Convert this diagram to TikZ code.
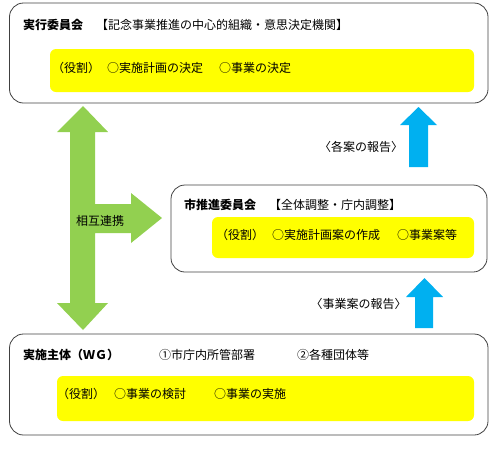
\documentclass[tikz,border=0pt]{standalone}
\usepackage{fontspec}
\setmainfont{Noto Sans CJK JP}
\usepackage{tikz}
\usetikzlibrary{positioning}
\definecolor{rolefill}{HTML}{FFFF00}
\definecolor{linkgreen}{HTML}{92D050}
\definecolor{reportblue}{HTML}{00B0F0}
\definecolor{framegray}{HTML}{404040}
\tikzset{%
	outerbox/.style = {draw=framegray, line width=0.8pt, rectangle, rounded corners=14pt}, % Organisation
	rolebox/.style  = {fill=rolefill, rectangle, rounded corners=6pt}, % Role
	ttl/.style      = {anchor=west, inner sep=0pt, font=\fontsize{12pt}{14pt}\selectfont\bfseries}, % Name
	txt/.style      = {anchor=west, inner sep=0pt, font=\fontsize{12pt}{14pt}\selectfont}, % Text
	report/.style   = {inner sep=0pt, font=\fontsize{12pt}{14pt}\selectfont}, % Report
}

\begin{document}
\begin{tikzpicture}[x=1pt, y=-1pt]
	\useasboundingbox (0,0) rectangle (500,448);
	
	% boxes
	\node[outerbox, minimum width=478.5pt, minimum height=100pt] (jikko) at (248.75,53) {};
	\node[rolebox, minimum width=424pt, minimum height=43pt] (jikkorole) at (262,70.5) {};
	\node[outerbox, minimum width=316pt, minimum height=87pt] (suishin) at (329,228.5) {};
	\node[rolebox, minimum width=262pt, minimum height=41pt] (suishinrole) at (343,237.5) {};
	\node[outerbox, minimum width=478.5pt, minimum height=101pt] (jisshi) at (248.75,384.5) {};
	\node[rolebox, minimum width=417pt, minimum height=45pt] (jisshirole) at (265.5,398.5) {};
	
	% texts
	\node[ttl] (jikkoname) at (23,25) {実行委員会};
	\node[txt] (jikkonote) at (96,25) {【記念事業推進の中心的組織・意思決定機関】};
	\node[txt] (jikkor0) at (52,68) {（役割）};
	\node[txt] (jikkor1) at (107,68) {○実施計画の決定};
	\node[txt] (jikkor2) at (219,68) {○事業の決定};
	
	\node[ttl] (suishinname) at (184,205) {市推進委員会};
	\node[txt] (suishinnote) at (269,205) {【全体調整・庁内調整】};
	\node[txt] (suishinr0) at (216,235) {（役割）};
	\node[txt] (suishinr1) at (272,235) {○実施計画案の作成};
	\node[txt] (suishinr2) at (397,235) {○事業案等};
	
	\node[ttl] (jisshiname) at (23,355) {実施主体（ＷＧ）};
	\node[txt] (jisshiu1) at (159,355) {①市庁内所管部署};
	\node[txt] (jisshiu2) at (297,355) {②各種団体等};
	\node[txt] (jisshir0) at (57,394) {（役割）};
	\node[txt] (jisshir1) at (114,394) {○事業の検討};
	\node[txt] (jisshir2) at (214,394) {○事業の実施};
	
	% arrows
	\fill[linkgreen] (83,106) -- (108,132) -- (95,132) -- (95,204) -- (131,204) -- (131,193)
		-- (162,218) -- (131,243) -- (131,233) -- (95,233) -- (95,303) -- (108,303)
		-- (83,330) -- (57,303) -- (70,303) -- (70,132) -- (57,132) -- cycle;
	\fill[reportblue] (418.5,107) -- (437,125) -- (428,125) -- (428,167) -- (409,167) -- (409,125) -- (400,125) -- cycle;
	\fill[reportblue] (424.5,278) -- (443,297) -- (433,297) -- (433,328) -- (415,328) -- (415,297) -- (406,297) -- cycle;
	
	\node[txt] (link) at (76,221) {相互連携};
	\node[report] (report1) at (361,147) {〈各案の報告〉};
	\node[report] (report2) at (358.5,304) {〈事業案の報告〉};
\end{tikzpicture}
\end{document}
